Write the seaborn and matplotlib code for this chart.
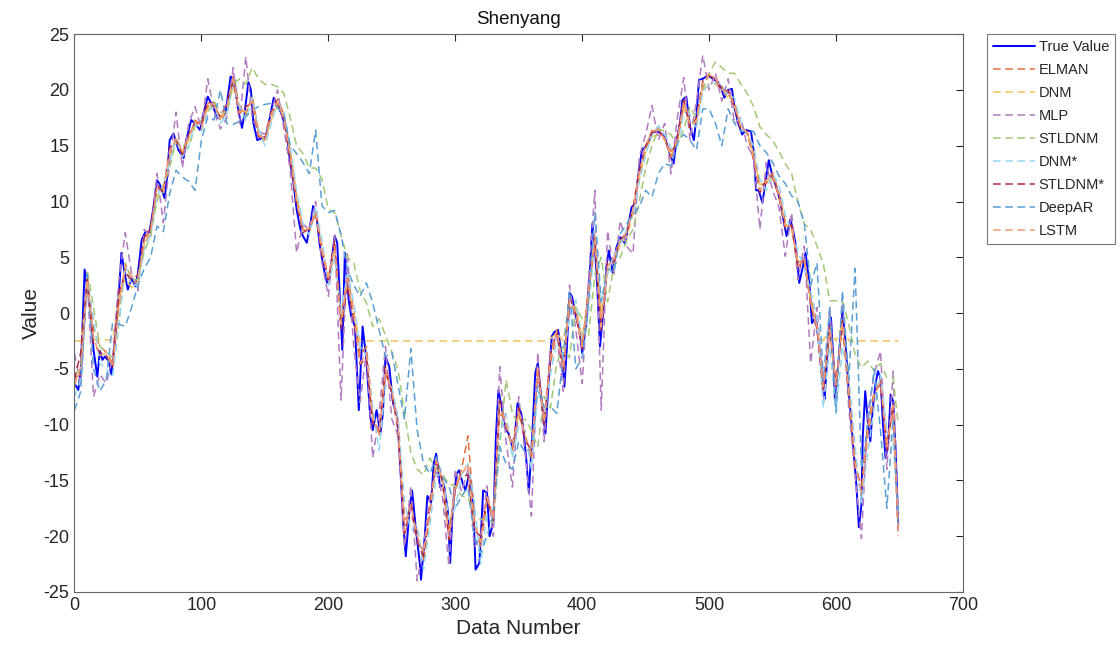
import matplotlib
matplotlib.use("Agg")
import matplotlib.pyplot as plt
import seaborn as sns
import numpy as np
import pandas as pd

# ---------------- data ----------------
true_x = [0, 3, 5, 8, 11, 12, 15, 18, 20, 22, 24, 27, 29, 32, 35, 37, 40, 42, 45, 48,
          50, 53, 56, 59, 62, 65, 67, 71, 73, 75, 78, 82, 86, 88, 92, 95, 99, 101, 105, 109,
          113, 117, 119, 123, 126, 129, 132, 134, 137, 139, 141, 144, 148, 151, 154, 157, 159, 163, 167, 170,
          172, 175, 178, 180, 183, 186, 188, 191, 193, 196, 199, 201, 205, 207, 211, 213, 216, 218, 221, 224,
          227, 230, 233, 235, 238, 241, 243, 245, 248, 251, 254, 256, 259, 261, 264, 266, 269, 272, 273, 276,
          278, 281, 283, 285, 288, 291, 294, 296, 298, 301, 303, 306, 308, 311, 314, 316, 319, 322, 325, 327,
          330, 332, 334, 337, 339, 342, 345, 347, 349, 352, 354, 356, 358, 361, 363, 365, 368, 371, 373, 376,
          378, 381, 384, 386, 388, 390, 392, 395, 398, 400, 403, 406, 408, 410, 412, 414, 417, 419, 421, 424,
          427, 430, 434, 436, 439, 442, 444, 447, 451, 456, 461, 465, 469, 472, 474, 477, 479, 482, 485, 488,
          490, 492, 495, 499, 503, 507, 510, 512, 515, 518, 520, 523, 526, 529, 533, 535, 537, 539, 542, 545,
          547, 550, 553, 556, 558, 561, 564, 566, 568, 571, 574, 576, 579, 581, 584, 587, 590, 591, 594, 596,
          598, 599, 602, 605, 607, 610, 612, 613, 616, 618, 620, 621, 623, 625, 627, 629, 631, 633, 635, 637,
          639, 641, 643, 645, 647, 649]
true_y = [-6.3, -6.9, -5.1, 3.9, 1.5, 0.9, -3.3, -5.7, -3.4, -4.2, -3.9, -4.3, -5.5, -2.4, 1.8, 5.4, 3.3, 2.1, 3.1, 2.4,
          3.6, 6.6, 7.3, 7.2, 9.3, 11.9, 11.6, 10.3, 12.2, 15.5, 16.1, 14.6, 13.9, 15.5, 17.3, 17.0, 16.4, 17.6, 19.4, 18.5,
          17.5, 17.6, 17.9, 21.2, 20.9, 18.2, 16.6, 17.9, 20.7, 20.0, 17.0, 15.5, 15.7, 15.8, 17.6, 19.3, 18.8, 17.9, 16.4, 13.4,
          12.2, 9.3, 7.5, 6.9, 6.3, 8.1, 9.6, 8.4, 6.3, 4.2, 2.7, 3.3, 6.9, 6.3, -3.3, 5.4, 1.2, -0.3, -1.2, -8.7,
          -1.2, -4.2, -9.3, -10.5, -8.7, -10.8, -9.0, -3.9, -4.8, -8.1, -9.0, -12.3, -18.8, -21.8, -17.6, -15.9, -19.4, -22.4, -23.9, -20.0,
          -16.4, -17.0, -13.5, -12.6, -15.6, -15.3, -17.6, -22.4, -17.6, -14.4, -14.1, -15.3, -15.9, -14.4, -16.7, -23.0, -22.4, -15.9, -16.1, -20.0,
          -18.8, -11.1, -6.9, -8.7, -10.2, -10.8, -12.0, -11.1, -8.1, -9.0, -10.8, -13.2, -16.1, -10.2, -5.4, -4.5, -7.8, -10.8, -7.2, -2.1,
          -1.7, -1.5, -3.9, -6.6, -3.0, 1.8, 1.5, -0.3, -1.5, -3.6, -1.2, 3.6, 8.0, 5.9, 2.1, -3.0, 0.6, 4.1, 5.6, 3.6,
          5.9, 6.8, 6.2, 7.7, 9.5, 9.8, 12.2, 14.6, 15.0, 16.3, 16.2, 15.8, 14.3, 13.4, 15.2, 17.0, 19.1, 19.4, 16.7, 15.5,
          17.6, 20.9, 21.0, 21.3, 21.0, 20.7, 20.0, 19.3, 20.0, 20.1, 18.4, 17.0, 16.0, 16.4, 16.3, 14.6, 11.0, 11.0, 9.9, 12.2,
          13.7, 12.2, 11.3, 10.1, 8.7, 6.9, 8.4, 7.5, 6.3, 2.7, 4.2, 5.4, 2.7, -0.9, -0.3, -3.3, -7.0, -7.7, -2.2, -0.4,
          -4.3, -7.6, -4.3, 0.2, -1.9, -7.0, -9.7, -11.2, -15.4, -19.2, -17.2, -11.2, -7.0, -9.7, -11.5, -8.5, -6.4, -5.2, -5.8, -10.0,
          -13.0, -11.8, -7.3, -7.9, -12.4, -19.0]

model_x = list(range(0, 650, 5)) + [649]

elman = [-5.8, -5.5, 3.5, -1.5, -3.0, -3.5, -4.5, 1.0, 4.0, 2.6,
         3.0, 6.5, 7.8, 10.8, 11.2, 13.8, 15.8, 14.3, 15.6, 17.3,
         16.8, 18.5, 18.9, 17.2, 18.2, 21.3, 18.5, 17.8, 19.5, 16.3,
         15.3, 17.6, 19.2, 17.8, 14.5, 10.5, 7.5, 7.3, 9.2, 6.0,
         2.8, 5.8, -0.5, 3.5, 0.2, -3.8, -3.0, -9.0, -11.0, -5.5,
         -6.8, -9.8, -18.5, -18.0, -19.5, -22.3, -18.0, -13.5, -14.8, -19.5,
         -16.0, -14.0, -11.0, -18.5, -21.0, -16.8, -18.0, -9.0, -9.6, -12.3,
         -9.2, -10.8, -13.2, -5.5, -9.3, -4.5, -1.8, -4.8, 0.5, 0.5,
         -2.8, 1.4, 7.0, -0.5, 3.8, 5.2, 6.3, 7.4, 9.0, 12.2,
         14.7, 16.4, 16.6, 15.5, 14.5, 15.2, 18.7, 17.3, 17.0, 20.2,
         21.5, 21.0, 20.3, 19.6, 18.9, 16.9, 16.0, 14.3, 11.5, 11.6,
         12.6, 10.8, 8.2, 7.6, 4.6, 4.6, 1.3, -0.8, -6.0, -2.0,
         -6.0, -1.3, -6.5, -13.0, -16.5, -10.8, -7.5, -5.8, -11.5, -8.8,
         -20.0]
dnm = [-2.5, -2.5, 2.2, -2.4, -2.4, -2.4, -2.4, 1.5, 3.0, 2.3,
       2.8, 6.5, 7.2, 10.5, 10.8, 14.0, 15.3, 14.5, 15.5, 16.8,
       17.0, 18.3, 18.6, 17.5, 18.0, 20.3, 18.2, 18.0, 19.2, 16.2,
       15.5, 17.3, 18.5, 17.6, 14.3, 10.3, 7.8, 7.5, 8.8, 6.0,
       3.3, 5.5, -1.0, 2.6, 0.0, -2.5, -2.5, -2.5, -2.5, -2.5,
       -2.5, -2.5, -2.5, -2.5, -2.5, -2.5, -2.5, -2.5, -2.5, -2.5,
       -2.5, -2.5, -2.5, -2.5, -2.5, -2.5, -2.5, -2.5, -2.5, -2.5,
       -2.5, -2.5, -2.5, -2.5, -2.5, -2.3, -1.8, -2.5, 0.8, 0.5,
       -2.2, 1.5, 6.5, 0.0, 3.8, 4.5, 6.2, 6.8, 8.8, 12.0,
       14.5, 15.8, 16.0, 15.5, 14.2, 15.3, 18.3, 17.0, 17.2, 20.0,
       20.5, 20.5, 20.0, 19.3, 18.5, 16.8, 16.2, 14.2, 11.5, 11.8,
       12.0, 10.5, 8.0, 7.5, 4.5, 4.8, 1.0, -1.5, -2.5, -1.5,
       -2.5, -1.0, -2.5, -2.5, -2.5, -2.5, -2.5, -2.5, -2.5, -2.5,
       -2.5]
mlp = [-3.6, -6.5, 3.0, -7.5, -5.5, -6.3, -4.0, 3.0, 7.2, 3.5,
       2.0, 7.5, 6.8, 12.5, 8.1, 13.5, 18.0, 13.0, 17.0, 18.5,
       16.5, 21.0, 18.0, 16.5, 17.5, 22.0, 17.0, 23.0, 17.5, 16.3,
       16.0, 18.0, 20.0, 16.5, 12.8, 5.4, 8.0, 7.5, 10.0, 4.5,
       1.5, 7.0, -7.8, 5.5, -3.0, -8.0, -3.5, -13.0, -9.0, -3.0,
       -9.5, -11.0, -21.0, -15.5, -24.0, -21.0, -16.5, -14.0, -16.5, -22.7,
       -14.0, -16.0, -14.0, -21.0, -20.0, -15.5, -20.0, -4.8, -11.5, -15.6,
       -7.5, -12.5, -18.2, -3.5, -11.5, -3.0, -2.0, -7.0, 2.5, -1.5,
       -6.3, 3.0, 11.0, -8.7, 7.4, 3.5, 8.3, 6.0, 5.3, 14.0,
       16.0, 18.6, 15.5, 17.0, 12.5, 17.5, 21.1, 15.5, 19.0, 23.1,
       20.0, 21.5, 19.0, 21.0, 17.0, 17.5, 15.0, 14.0, 7.5, 13.5,
       11.0, 9.5, 5.1, 9.0, 3.0, 6.0, -4.5, 0.5, -8.0, 0.5,
       -8.0, 1.0, -8.5, -14.5, -20.2, -9.0, -5.5, -3.4, -14.0, -5.2,
       -19.9]
stldnm = [-5.5, -5.0, 3.9, 0.5, -3.0, -3.5, -4.0, -1.0, 4.5, 3.0,
          3.0, 5.5, 7.0, 10.0, 11.5, 13.0, 15.5, 15.0, 14.8, 16.8,
          17.3, 18.0, 19.0, 18.0, 18.0, 20.5, 21.0, 20.5, 22.0, 21.0,
          20.5, 20.5, 20.3, 19.7, 17.5, 15.0, 14.3, 13.0, 13.0, 12.0,
          9.3, 9.0, 7.0, 5.0, 4.5, 2.0, 0.9, -1.2, -0.5, -2.0,
          -3.5, -5.1, -9.0, -12.5, -14.0, -14.5, -13.0, -14.0, -14.5, -15.3,
          -15.5, -16.4, -16.5, -18.2, -18.5, -18.5, -18.8, -12.0, -6.0, -9.0,
          -10.0, -9.5, -10.5, -12.0, -7.5, -8.5, -4.5, -3.0, -4.0, 0.5,
          -0.5, -2.0, 3.5, 5.0, 1.0, 4.2, 5.0, 6.5, 7.5, 10.0,
          13.0, 15.0, 16.5, 16.3, 16.0, 15.0, 16.5, 18.5, 17.5, 20.0,
          21.5, 22.5, 22.0, 21.5, 21.5, 20.5, 19.7, 18.5, 16.7, 16.0,
          15.5, 14.5, 13.4, 12.5, 9.9, 8.0, 7.5, 6.0, 4.4, 1.1,
          1.1, 1.1, -1.0, -3.7, -4.9, -4.3, -5.2, -4.5, -5.8, -5.8,
          -10.0]
dnm_star = [-7.5, -6.0, 2.8, -0.5, -4.5, -5.0, -5.8, -1.0, 4.3, 2.5,
            2.5, 5.8, 7.0, 10.5, 11.5, 13.5, 15.6, 14.0, 15.0, 17.0,
            16.3, 18.0, 18.6, 17.0, 17.8, 20.5, 18.5, 17.3, 19.3, 16.5,
            15.0, 17.0, 18.8, 18.0, 15.0, 11.0, 8.0, 7.0, 9.5, 6.5,
            2.5, 5.0, 0.0, 3.5, 1.0, -3.0, -3.8, -8.5, -12.3, -6.5,
            -6.5, -9.5, -17.0, -19.5, -19.0, -23.0, -19.0, -14.5, -14.5, -18.5,
            -17.5, -14.5, -13.5, -17.0, -22.5, -18.0, -17.5, -11.0, -9.0, -13.0,
            -10.0, -10.5, -14.0, -7.0, -9.0, -5.5, -2.5, -4.0, -0.5, 1.2,
            -2.5, 0.2, 6.5, 1.0, 3.5, 5.2, 6.2, 7.5, 8.8, 11.8,
            14.2, 16.0, 16.8, 16.0, 14.8, 14.8, 18.0, 17.8, 16.5, 19.8,
            20.5, 20.6, 20.5, 19.5, 19.3, 17.0, 16.0, 15.0, 12.0, 11.0,
            12.5, 11.5, 8.8, 7.4, 5.5, 4.0, 2.0, -0.5, -8.5, -3.0,
            -9.0, -3.0, -5.5, -12.0, -17.0, -12.5, -8.5, -5.5, -10.5, -11.5,
            -18.0]
stldnm_star = [-6.0, -3.5, 3.0, -2.8, -3.5, -3.8, -4.8, 1.8, 3.6, 3.0,
               3.4, 6.8, 7.6, 11.5, 10.8, 14.8, 15.5, 14.2, 16.0, 17.1,
               16.9, 19.0, 18.5, 17.6, 18.8, 20.8, 17.9, 18.5, 18.8, 15.8,
               15.6, 18.0, 18.8, 17.4, 13.8, 9.8, 7.2, 7.6, 8.9, 5.4,
               3.0, 6.5, -1.5, 2.5, -0.5, -4.6, -4.0, -9.8, -10.6, -4.8,
               -7.3, -10.4, -19.8, -17.0, -20.5, -21.8, -17.3, -13.0, -15.2, -20.3,
               -15.3, -14.7, -14.5, -19.5, -20.0, -16.7, -18.6, -7.9, -10.2, -11.9,
               -8.5, -11.3, -12.4, -4.8, -10.0, -3.8, -1.6, -5.3, 1.5, -0.2,
               -3.2, 2.2, 6.2, -1.5, 4.5, 4.6, 6.6, 7.1, 9.4, 12.8,
               15.0, 16.2, 16.3, 15.7, 13.9, 15.8, 19.1, 16.6, 17.5, 20.8,
               21.3, 20.9, 20.0, 19.9, 18.5, 16.4, 16.3, 13.7, 10.8, 12.0,
               12.3, 10.4, 7.6, 7.9, 4.0, 4.9, 0.7, -1.4, -7.0, -1.2,
               -6.6, -0.7, -7.2, -13.8, -15.5, -10.0, -7.1, -6.4, -12.3, -8.1,
               -19.3]
deepar = [-8.7, -7.0, 3.5, -5.0, -7.0, -6.0, -0.9, -1.0, -1.2, 0.5,
          2.5, 4.0, 5.0, 7.8, 7.3, 10.7, 12.8, 12.2, 11.8, 11.0,
          15.5, 17.6, 17.3, 20.0, 17.0, 16.9, 17.2, 17.6, 18.2, 18.5,
          18.7, 18.8, 18.4, 17.8, 15.0, 14.3, 13.5, 12.5, 16.4, 9.6,
          9.0, 9.2, 7.0, 3.9, 2.5, 1.5, 2.7, 0.9, -1.5, -3.9,
          -3.5, -6.5, -9.5, -3.2, -10.5, -13.5, -14.4, -12.9, -14.7, -15.5,
          -17.5, -16.4, -15.6, -20.0, -21.5, -20.0, -18.0, -12.0, -13.5, -14.0,
          -11.5, -12.5, -12.0, -6.5, -8.4, -8.4, -9.0, -3.9, 2.0, -5.0,
          -4.0, 1.0, 9.0, 1.0, 4.0, 3.6, 7.1, 8.0, 8.9, 9.5,
          11.0, 10.4, 12.5, 13.4, 13.2, 15.3, 16.0, 15.5, 14.6, 18.3,
          18.3, 17.0, 15.0, 18.3, 17.0, 16.3, 16.3, 16.3, 15.0, 14.4,
          13.5, 12.3, 11.6, 10.5, 10.0, 8.0, 2.5, 4.5, -6.0, 0.5,
          -8.8, 2.0, -6.0, 4.0, -14.0, -10.0, -5.0, -10.5, -17.5, -9.4,
          -19.0]
lstm = [-6.5, -4.8, 3.0, -2.2, -3.8, -3.6, -4.8, 0.5, 4.4, 3.3,
        3.2, 6.2, 7.3, 11.2, 11.0, 14.5, 15.6, 14.5, 15.8, 17.2,
        16.5, 18.8, 18.7, 17.5, 18.5, 21.0, 18.0, 18.2, 19.0, 16.0,
        15.5, 17.8, 18.9, 17.5, 14.0, 10.0, 7.4, 7.6, 9.0, 5.6,
        3.2, 6.0, -1.0, 3.0, 0.0, -4.5, -3.6, -9.5, -10.8, -5.0,
        -7.0, -10.2, -19.5, -17.2, -20.0, -21.5, -17.5, -13.2, -15.0, -20.0,
        -15.5, -14.5, -13.5, -19.0, -20.5, -16.5, -18.5, -8.2, -10.0, -12.0,
        -8.8, -11.0, -12.6, -5.0, -9.8, -4.0, -1.5, -5.0, 1.2, 0.0,
        -3.0, 2.0, 6.5, -1.2, 4.2, 4.8, 6.5, 7.2, 9.3, 12.6,
        15.0, 16.3, 16.4, 15.6, 14.0, 15.6, 19.0, 16.8, 17.3, 20.6,
        21.4, 21.0, 20.0, 19.8, 18.6, 16.6, 16.2, 13.9, 11.0, 11.9,
        12.4, 10.5, 7.8, 7.8, 4.2, 4.8, 0.9, -1.2, -6.6, -1.5,
        -6.4, -0.9, -7.0, -13.5, -16.0, -10.3, -7.2, -6.2, -12.0, -8.3,
        -19.5]

series_names = ["ELMAN", "DNM", "MLP", "STLDNM", "DNM*", "STLDNM*", "DeepAR", "LSTM"]
series_vals = [elman, dnm, mlp, stldnm, dnm_star, stldnm_star, deepar, lstm]
series_colors = ["#E2703F", "#F2C25E", "#B27BC0", "#A3C878", "#96D6F2",
                 "#B2293F", "#5A9FD6", "#F29A72"]

# ---------------- plotting ----------------
sns.set_style("white")
plt.rcParams["font.family"] = ["Liberation Sans", "DejaVu Sans"]
plt.rcParams["axes.unicode_minus"] = False

fig = plt.figure(figsize=(11.2, 6.57), dpi=100)
ax = fig.add_axes([0.0665, 0.099, 0.7933, 0.849])

sns.lineplot(x=true_x, y=true_y, ax=ax, color="#0000FF", linewidth=1.4,
             label="True Value", estimator=None, sort=False)

for name, vals, col in zip(series_names, series_vals, series_colors):
    sns.lineplot(x=model_x, y=vals, ax=ax, color=col, linewidth=1.1,
                 label=name, estimator=None, sort=False)
    ax.lines[-1].set_linestyle((0, (5, 3)))

ax.set_xlim(0, 700)
ax.set_ylim(-25, 25)
ax.set_xticks(np.arange(0, 701, 100))
ax.set_yticks(np.arange(-25, 26, 5))
ax.tick_params(direction="in", top=True, right=True, length=5, width=0.8,
               labelsize=13, colors="#262626")
for s in ax.spines.values():
    s.set_visible(True)
    s.set_color("#666666")
    s.set_linewidth(0.8)

ax.set_title("Shenyang", fontsize=13.5, color="#111111", pad=7)
ax.set_xlabel("Data Number", fontsize=15, color="#262626", labelpad=4)
ax.set_ylabel("Value", fontsize=15, color="#262626", labelpad=2)

handles, labels = ax.get_legend_handles_labels()
leg = ax.legend(handles, labels, loc="upper left", bbox_to_anchor=(1.027, 1.0),
                fontsize=10.5, frameon=True, fancybox=False, handlelength=2.9,
                handletextpad=0.25, labelspacing=0.62, borderpad=0.4,
                borderaxespad=0.0, edgecolor="#555555")
leg.get_frame().set_linewidth(0.8)

fig.savefig("out.png", dpi=100)
